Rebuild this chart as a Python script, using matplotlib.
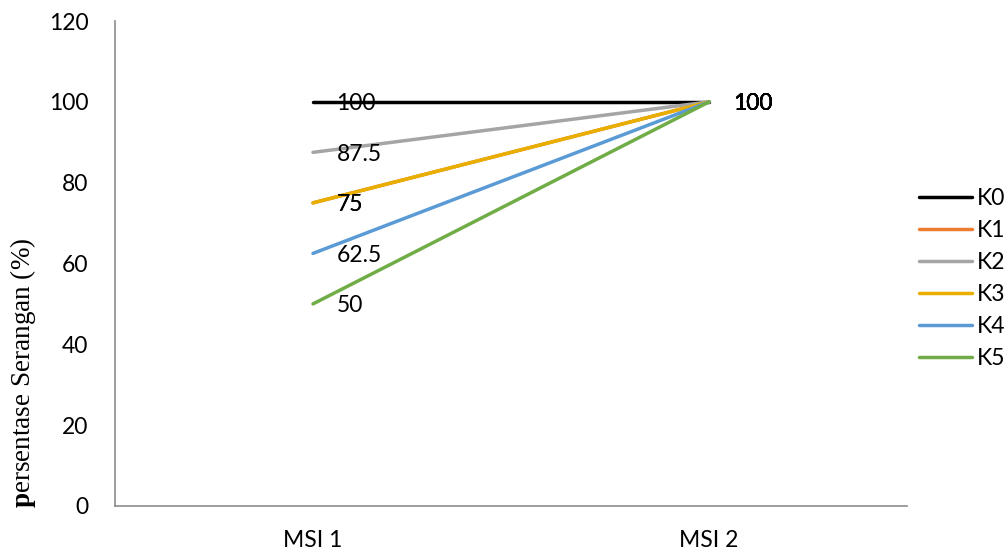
import matplotlib
matplotlib.use("Agg")
import matplotlib.pyplot as plt

categories = ["MSI 1", "MSI 2"]
series_names = ["K0", "K1", "K2", "K3", "K4", "K5"]
K0 = [100, 100]
K1 = [75, 100]
K2 = [87.5, 100]
K3 = [75, 100]
K4 = [62.5, 100]
K5 = [50, 100]
series_values = [K0, K1, K2, K3, K4, K5]
colors = ["#000000", "#ED7D31", "#A5A5A5", "#E8AE00", "#5B9BD5", "#70AD47"]
y_ticks = [0, 20, 40, 60, 80, 100, 120]

plt.rcParams["font.family"] = ["Lato", "DejaVu Sans"]
plt.rcParams["mathtext.fontset"] = "custom"
plt.rcParams["mathtext.rm"] = "Liberation Serif"
plt.rcParams["mathtext.bf"] = "Liberation Serif:bold"

fig = plt.figure(figsize=(10.08, 5.53), dpi=100)
ax = fig.add_axes([0.114, 0.085, 0.786, 0.877])

x = list(range(len(categories)))
handles = []
for name, vals, c in zip(series_names, series_values, colors):
    h, = ax.plot(x, vals, color=c, lw=2.5, solid_capstyle="round", label=name)
    handles.append(h)
    for xi, v in zip(x, vals):
        ax.annotate(f"{v:g}", (xi, v), xytext=(17, 0), textcoords="offset points",
                    ha="left", va="center_baseline", fontsize=16.5, color="#000000")

ax.set_xlim(-0.5, 1.5)
ax.set_ylim(0, 120)
ax.set_yticks(y_ticks)
ax.set_xticks(x)
ax.set_xticklabels(categories)
ax.tick_params(axis="both", length=0, labelsize=16.5, colors="#000000")
ax.tick_params(axis="y", pad=19)
ax.tick_params(axis="x", pad=17)
for s in ["top", "right"]:
    ax.spines[s].set_visible(False)
for s in ["left", "bottom"]:
    ax.spines[s].set_color("#8C8C8C")
    ax.spines[s].set_linewidth(1.2)

fig.text(0.023, 0.325, r"$\mathbf{p}$ersentase Serangan (%)", rotation=90,
         ha="center", va="center", fontsize=19.5, family="Liberation Serif")

leg = fig.legend(handles=handles, loc="center left", bbox_to_anchor=(0.903, 0.496),
                 frameon=False, fontsize=16.5, handlelength=2.3, handletextpad=0.2,
                 labelspacing=0.48, borderaxespad=0.0)

fig.savefig("out.png", dpi=100)
